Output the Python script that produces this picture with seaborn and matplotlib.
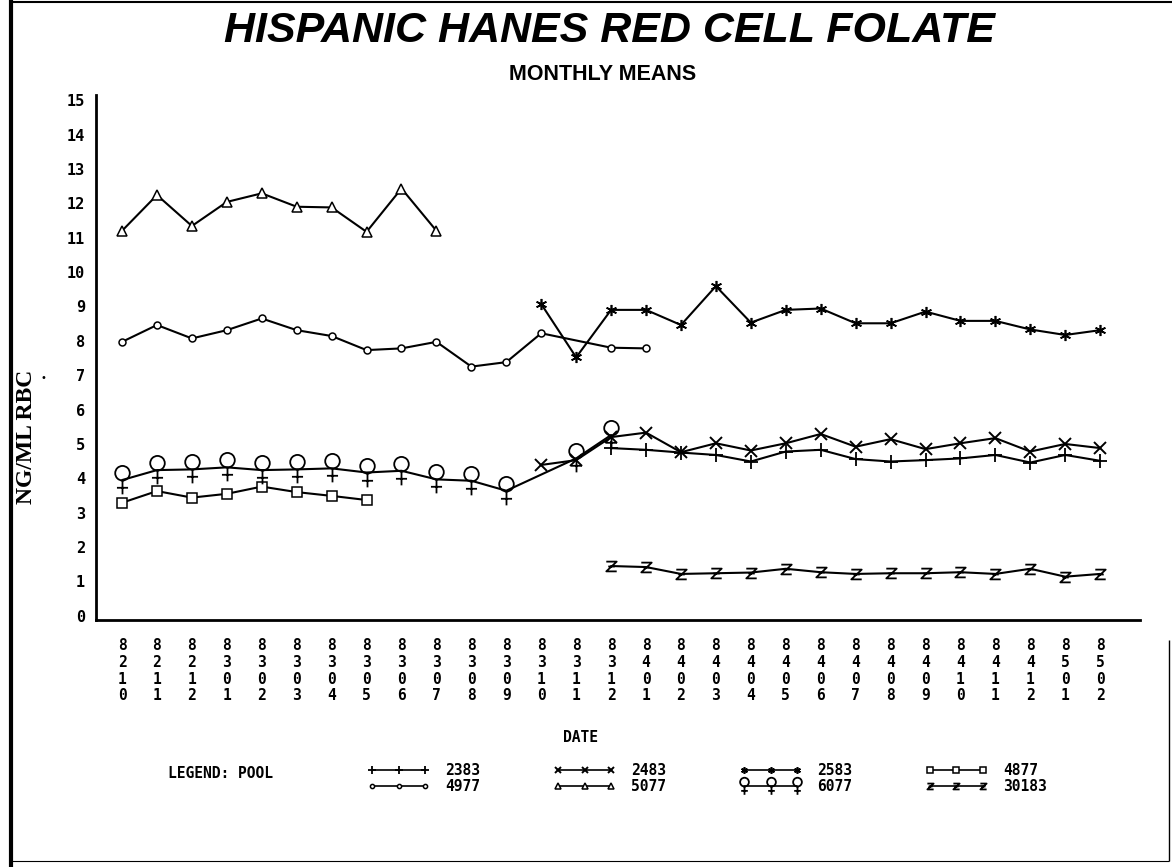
import matplotlib
matplotlib.use("Agg")
import matplotlib.pyplot as plt
from matplotlib.path import Path
from matplotlib.lines import Line2D
import numpy as np
import pandas as pd
import seaborn as sns

# ---- data: monthly means of red cell folate (ng/ml RBC) by pool ----
dates = ["8210", "8211", "8212",
         "8301", "8302", "8303", "8304", "8305", "8306",
         "8307", "8308", "8309", "8310", "8311", "8312",
         "8401", "8402", "8403", "8404", "8405", "8406",
         "8407", "8408", "8409", "8410", "8411", "8412",
         "8501", "8502"]

N = None
pool_2383 = [N] * 14 + [4.88, 4.83, 4.75, 4.68, 4.49, 4.78, 4.83, 4.56,
                        4.49, 4.53, 4.58, 4.68, 4.46, 4.68, 4.51]
pool_2483 = [N] * 12 + [4.39, 4.53, 5.20, 5.33, 4.76, 5.02, 4.81, 5.02,
                        5.29, 4.92, 5.14, 4.85, 5.02, 5.17, 4.78, 5.00, 4.88]
pool_2583 = [N] * 12 + [9.07, 7.52, 8.90, 8.90, 8.46, 9.59, 8.53, 8.90,
                        8.94, 8.51, 8.51, 8.85, 8.58, 8.58, 8.33, 8.17, 8.31]
pool_4877 = [3.29, 3.63, 3.44, 3.55, 3.76, 3.60, 3.49, 3.37] + [N] * 21
pool_4977 = [7.97, 8.46, 8.07, 8.31, 8.65, 8.31, 8.14, 7.73, 7.78, 7.97,
             7.25, 7.38, 8.22, N, 7.80, 7.78] + [N] * 13
pool_5077 = [11.20, 12.24, 11.34, 12.04, 12.29, 11.90, 11.88, 11.17,
             12.43, 11.20] + [N] * 19
pool_6077 = [3.95, 4.24, 4.26, 4.32, 4.24, 4.26, 4.29, 4.17, 4.22, 3.97,
             3.93, 3.64, N, 4.58, 5.26] + [N] * 14
pool_30183 = [N] * 14 + [1.45, 1.42, 1.22, 1.24, 1.26, 1.37, 1.27, 1.22,
                         1.24, 1.24, 1.27, 1.22, 1.37, 1.14, 1.22]

pools = ["2383", "2483", "2583", "4877", "4977", "5077", "6077", "30183"]
series = [pool_2383, pool_2483, pool_2583, pool_4877, pool_4977,
          pool_5077, pool_6077, pool_30183]

# ---- custom plotter-style symbols ----
female = Path.make_compound_path(
    Path.circle(center=(0.0, 0.5), radius=0.5),
    Path([(0.0, 0.0), (0.0, -0.95)], [Path.MOVETO, Path.LINETO]),
    Path([(-0.38, -0.5), (0.38, -0.5)], [Path.MOVETO, Path.LINETO]),
)
zsym = Path([(-0.8, 0.75), (0.8, 0.75), (-0.8, -0.75), (0.8, -0.75),
             (-0.5, 0.0), (0.5, 0.0)],
            [Path.MOVETO, Path.LINETO, Path.LINETO, Path.LINETO,
             Path.MOVETO, Path.LINETO])

styles = {
    "2383": dict(marker="+", markersize=10, markeredgewidth=1.3, markerfacecolor="none"),
    "2483": dict(marker="x", markersize=8, markeredgewidth=1.4, markerfacecolor="none"),
    "2583": dict(marker=(6, 2, 0), markersize=8, markeredgewidth=1.2, markerfacecolor="none"),
    "4877": dict(marker="s", markersize=7, markeredgewidth=1.1, markerfacecolor="white"),
    "4977": dict(marker="o", markersize=5, markeredgewidth=1.1, markerfacecolor="white"),
    "5077": dict(marker="^", markersize=6.5, markeredgewidth=1.1, markerfacecolor="white"),
    "6077": dict(marker=female, markersize=21, markeredgewidth=1.3, markerfacecolor="none"),
    "30183": dict(marker=zsym, markersize=7.5, markeredgewidth=1.3, markerfacecolor="none"),
}

rows = []
for pool, vals in zip(pools, series):
    for i, v in enumerate(vals):
        if v is not None:
            rows.append({"pool": pool, "idx": i, "value": v})
df = pd.DataFrame(rows)

sns.set_theme(style="white")
plt.rcParams["font.family"] = ["DejaVu Sans"]
plt.rcParams["text.color"] = "black"
plt.rcParams["axes.labelcolor"] = "black"
plt.rcParams["xtick.color"] = "black"
plt.rcParams["ytick.color"] = "black"

W, H = 1172, 867
fig = plt.figure(figsize=(W / 100, H / 100), dpi=100)
ax = fig.add_axes([96 / W, 1 - 620 / H, (1140 - 96) / W, (620 - 95) / H])

for pool in pools:
    sub = df[df["pool"] == pool]
    sns.lineplot(data=sub, x="idx", y="value", ax=ax, color="black",
                 linewidth=1.5, markeredgecolor="black", sort=False,
                 estimator=None, legend=False, **styles[pool])

mono = dict(family="DejaVu Sans Mono", weight="bold")

ax.set_xlim(-0.745, 29.14)
ax.set_ylim(-0.12, 15.15)
ax.set_yticks(range(16))
ax.set_yticklabels([str(v) for v in range(16)], fontsize=11, **mono)
ax.set_xticks(range(len(dates) + 1))
ax.set_xticklabels(["\n".join(d) for d in dates] + [""], fontsize=10.5,
                   linespacing=1.15, **mono)
ax.tick_params(axis="both", direction="out", length=7, width=1.6,
               color="black", labelcolor="black")
ax.tick_params(axis="y", pad=1)
ax.tick_params(axis="x", pad=6)
for side in ["top", "right"]:
    ax.spines[side].set_visible(False)
for side in ["left", "bottom"]:
    ax.spines[side].set_color("black")
    ax.spines[side].set_linewidth(2.0)
ax.set_xlabel("")
ax.set_ylabel("")

# titles and axis captions
fig.text(609 / W, 1 - 31 / H, "HISPANIC HANES RED CELL FOLATE",
         ha="center", va="center", fontsize=31, fontweight="bold",
         fontstyle="italic", family="Liberation Sans", color="black")
fig.text(603 / W, 1 - 75 / H, "MONTHLY MEANS", ha="center", va="center",
         fontsize=15.5, fontweight="bold", family="Liberation Sans",
         color="black")
fig.text(27 / W, 1 - 437 / H, "NG/ML RBC", rotation=90, ha="center",
         va="center", fontsize=17, fontweight="bold", family="Liberation Serif",
         color="black")
fig.text(43 / W, 1 - 378 / H, "\u2022", ha="center", va="center",
         fontsize=7, color="black")
fig.text(580 / W, 1 - 737 / H, "DATE", ha="center", va="center",
         fontsize=10.5, color="black", **mono)

# legend: two rows, four columns
fig.text(168 / W, 1 - 773 / H, "LEGEND: POOL", ha="left", va="center",
         fontsize=10.5, color="black", **mono)
order = ["2383", "4977", "2483", "5077", "2583", "6077", "4877", "30183"]
handles = []
for pool in order:
    st = dict(styles[pool])
    st["markersize"] = st["markersize"] * 0.6
    handles.append(Line2D([], [], color="black", linewidth=1.2,
                          markeredgecolor="black", **st))
fig.legend(handles, order, loc="upper left",
           bbox_to_anchor=(368 / W, 1 - 763 / H), ncol=4, frameon=False,
           numpoints=3, handlelength=4.2, handletextpad=1.1,
           columnspacing=5.05, labelspacing=0.05, borderpad=0,
           borderaxespad=0, labelcolor="black",
           prop=dict(family="DejaVu Sans Mono", weight="bold", size=10.5))

# outer frame
def frame_line(x0, y0, x1, y1, lw):
    fig.add_artist(Line2D([x0 / W, x1 / W], [1 - y0 / H, 1 - y1 / H],
                          transform=fig.transFigure, color="black",
                          linewidth=lw, solid_capstyle="butt"))

frame_line(11, 0, 11, H, 3.0)
frame_line(11, 2, W, 2, 1.5)
frame_line(11, 861, 1169, 861, 0.8)
frame_line(1169, 640, 1169, 861, 1.0)

fig.savefig("out.png", dpi=100, facecolor="white")
